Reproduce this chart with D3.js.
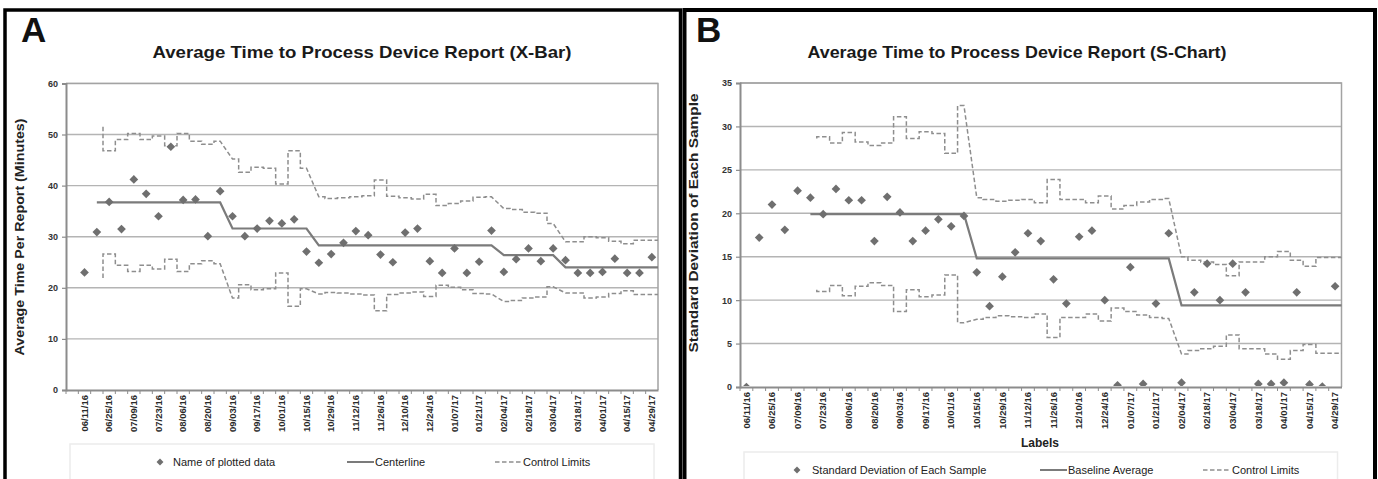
<!DOCTYPE html>
<html><head><meta charset="utf-8">
<script src="https://cdn.jsdelivr.net/npm/d3@7"></script>
<style>
body{margin:0;background:#fff}
svg{display:block}
text{font-family:"Liberation Sans",Arial,sans-serif}
</style>
</head><body>
<svg id="c" width="1378" height="479"></svg>
<script>
// ---------- DATA ----------
const weeks = ["06/11/16","06/18/16","06/25/16","07/02/16","07/09/16","07/16/16","07/23/16","07/30/16",
  "08/06/16","08/13/16","08/20/16","08/27/16","09/03/16","09/10/16","09/17/16","09/24/16","10/01/16",
  "10/08/16","10/15/16","10/22/16","10/29/16","11/05/16","11/12/16","11/19/16","11/26/16","12/03/16",
  "12/10/16","12/17/16","12/24/16","12/31/16","01/07/17","01/14/17","01/21/17","01/28/17","02/04/17",
  "02/11/17","02/18/17","02/25/17","03/04/17","03/11/17","03/18/17","03/25/17","04/01/17","04/08/17",
  "04/15/17","04/22/17","04/29/17"];
const tickLabels = ["06/11/16","06/25/16","07/09/16","07/23/16","08/06/16","08/20/16","09/03/16","09/17/16",
  "10/01/16","10/15/16","10/29/16","11/12/16","11/26/16","12/10/16","12/24/16","01/07/17","01/21/17",
  "02/04/17","02/18/17","03/04/17","03/18/17","04/01/17","04/15/17","04/29/17"];

// Panel A: X-bar
const xbarValues = [23.0,30.9,36.8,31.5,41.2,38.4,34.0,47.6,37.2,37.3,30.1,38.9,34.0,30.1,31.6,33.1,32.6,33.4,
  27.1,24.9,26.6,28.8,31.1,30.3,26.5,25.0,30.8,31.6,25.2,22.9,27.7,22.9,25.1,31.2,23.1,25.6,27.7,25.2,27.7,
  25.4,22.9,22.9,23.1,25.7,22.9,22.9,26.0];
const xbarCenter = [null,36.7,36.7,36.7,36.7,36.7,36.7,36.7,36.7,36.7,36.7,36.7,
  31.6,31.6,31.6,31.6,31.6,31.6,31.6,
  28.3,28.3,28.3,28.3,28.3,28.3,28.3,28.3,28.3,28.3,28.3,28.3,28.3,28.3,28.3,
  26.4,26.4,26.4,26.4,26.4,
  24.0,24.0,24.0,24.0,24.0,24.0,24.0,24.0];
const xbarUCL = [null,51.5,46.8,49.0,50.2,49.0,49.7,47.8,50.2,48.7,48.1,48.7,45.2,42.6,43.6,43.4,40.3,46.8,43.4,
  37.8,37.5,37.6,37.8,38.0,41.1,37.9,37.6,37.4,38.3,36.1,36.5,37.0,37.7,37.8,35.5,35.3,34.8,34.6,32.6,
  29.0,29.0,30.0,29.8,29.1,28.6,29.3,29.3];
const xbarLCL = [null,21.9,26.6,24.4,23.2,24.4,23.7,25.6,23.2,24.7,25.3,24.7,18.0,20.6,19.6,19.8,22.9,16.4,19.8,
  18.8,19.1,19.0,18.8,18.6,15.5,18.7,19.0,19.2,18.3,20.5,20.1,19.6,18.9,18.8,17.3,17.5,18.0,18.2,20.2,
  19.0,19.0,18.0,18.2,18.9,19.4,18.7,18.7];
const xbarTicks = [0,10,20,30,40,50,60];

// Panel B: S-chart
const sdValues = [0.0,17.2,21.0,18.1,22.6,21.8,19.9,22.8,21.5,21.5,16.8,21.9,20.1,16.8,18.0,19.3,18.5,19.7,
  13.2,9.3,12.7,15.5,17.7,16.8,12.4,9.6,17.3,18.0,10.0,0.2,13.8,0.35,9.6,17.7,0.5,10.9,14.2,10.0,14.2,10.9,
  0.35,0.35,0.5,10.9,0.3,0.05,11.6];
const sdCenter = [null,null,null,null,null,
  19.9,19.9,19.9,19.9,19.9,19.9,19.9,19.9,19.9,19.9,19.9,19.9,19.9,
  14.8,14.8,14.8,14.8,14.8,14.8,14.8,14.8,14.8,14.8,14.8,14.8,14.8,14.8,14.8,14.8,
  9.4,9.4,9.4,9.4,9.4,9.4,9.4,9.4,9.4,9.4,9.4,9.4,9.4];
const sdUCL = [null,null,null,null,null,28.6,28.8,28.1,29.3,28.2,27.8,28.1,31.1,28.6,29.4,29.2,26.9,32.4,
  21.8,21.6,21.4,21.5,21.6,21.2,23.9,21.6,21.6,21.2,22.0,20.5,20.9,21.3,21.6,21.7,
  15.0,14.6,14.4,14.1,12.8,14.4,14.4,15.0,15.6,14.6,13.9,14.9,14.9];
const sdLCL = [null,null,null,null,null,11.2,11.0,11.7,10.5,11.6,12.0,11.7,8.7,11.2,10.4,10.6,12.9,7.4,
  7.8,8.0,8.2,8.1,8.0,8.4,5.7,8.0,8.0,8.4,7.6,9.1,8.7,8.3,8.0,7.9,
  3.8,4.2,4.4,4.7,6.0,4.4,4.4,3.8,3.2,4.2,4.9,3.9,3.9];
const sdTicks = [0,5,10,15,20,25,30,35];

// ---------- DRAWING ----------
const svg = d3.select("#c");
const FONT = '"Liberation Sans",Arial,sans-serif';
const GRID = "#b4b4b4", AXIS = "#8c8c8c", MARK = "#6f6f6f", CLC = "#7b7b7b", LIM = "#8e8e8e";

function centerPath(xc, xr, y, vals) {
  const idx = vals.map((v, i) => v == null ? -1 : i).filter(i => i >= 0);
  const p = d3.path();
  idx.forEach((i, k) => k ? p.lineTo(xc(i), y(vals[i])) : p.moveTo(xc(i), y(vals[i])));
  const L = idx[idx.length - 1];
  p.lineTo(xr(L), y(vals[L]));
  return p.toString();
}
function limitPath(xl, xc, xr, y, vals, cl) {
  const idx = vals.map((v, i) => v == null ? -1 : i).filter(i => i >= 0);
  const f = idx[0], L = idx[idx.length - 1];
  const p = d3.path();
  p.moveTo(xr(f), y(vals[f]));
  for (let i = f + 1; i <= L; i++) {
    p.lineTo(xl(i), y(vals[i]));
    if (i < L && cl[i + 1] !== cl[i]) {
      p.lineTo(xc(i), y(vals[i]));
      p.lineTo(xc(i + 1), y(vals[i + 1]));
      p.lineTo(xr(i + 1), y(vals[i + 1]));
      i++;
    } else {
      p.lineTo(xr(i), y(vals[i]));
    }
  }
  return p.toString();
}

function panel(cfg) {
  const g = svg.append("g");
  const x = d3.scaleBand().domain(cfg.domain).range([cfg.left, cfg.right]).paddingInner(0).paddingOuter(0);
  const bw = x.bandwidth();
  const xl = i => x(weeks[i]), xc = i => x(weeks[i]) + bw / 2, xr = i => x(weeks[i]) + bw;
  const y = d3.scaleLinear().domain([0, cfg.ticks[cfg.ticks.length - 1]]).range([cfg.bottom, cfg.top]);
  const id = "clip" + cfg.key;
  svg.append("clipPath").attr("id", id).append("rect")
    .attr("x", cfg.left).attr("y", cfg.top - 2).attr("width", cfg.right - cfg.left).attr("height", cfg.bottom - cfg.top + 1);

  // gridlines
  g.append("g").selectAll("line").data(cfg.ticks.filter(t => t > 0)).join("line")
    .attr("x1", cfg.left).attr("x2", cfg.right).attr("y1", d => y(d)).attr("y2", d => y(d))
    .attr("stroke", GRID).attr("stroke-width", 1.4);
  // plot border (top/right)
  g.append("path").attr("d", `M${cfg.left},${cfg.top}H${cfg.right}V${cfg.bottom}`)
    .attr("fill", "none").attr("stroke", "#a3a3a3").attr("stroke-width", 1.5);

  // control limits
  [cfg.ucl, cfg.lcl].forEach(arr => {
    g.append("path").attr("d", limitPath(xl, xc, xr, y, arr, cfg.center))
      .attr("fill", "none").attr("stroke", LIM).attr("stroke-width", 1.5)
      .attr("stroke-dasharray", "4.5,2.5");
  });
  // centerline
  g.append("path").attr("d", centerPath(xc, xr, y, cfg.center))
    .attr("fill", "none").attr("stroke", CLC).attr("stroke-width", 2.2);
  // points
  const sym = d3.symbol().type(d3.symbolSquare).size(38);
  g.append("g").attr("clip-path", `url(#${id})`).selectAll("path").data(cfg.values).join("path")
    .attr("d", sym)
    .attr("transform", (d, i) => `translate(${xc(i)},${y(d)}) rotate(45)`)
    .attr("fill", MARK);

  // y axis
  const ya = g.append("g").attr("transform", `translate(${cfg.left},0)`)
    .call(d3.axisLeft(y).tickValues(cfg.ticks).tickSize(4).tickPadding(4).tickFormat(d3.format("d")));
  ya.select(".domain").attr("stroke", AXIS).attr("stroke-width", 2);
  ya.selectAll(".tick line").attr("stroke", AXIS).attr("stroke-width", 1.2);
  ya.selectAll("text").attr("font-family", FONT).attr("font-size", 9).attr("font-weight", "bold").attr("fill", "#333");

  // x axis
  const xa = g.append("g").attr("transform", `translate(0,${cfg.bottom})`)
    .call(d3.axisBottom(x).tickValues(tickLabels).tickSize(0).tickPadding(0));
  xa.select(".domain").attr("stroke", AXIS).attr("stroke-width", 2.2);
  xa.selectAll("text").attr("font-family", FONT).attr("font-size", 9.5).attr("font-weight", "bold").attr("fill", "#2a2a2a")
    .attr("transform", "rotate(-90)").attr("text-anchor", "end").attr("dy", "0.34em").attr("x", -5).attr("y", 0);
  // boundary tick marks
  xa.append("g").selectAll("line").data(cfg.domain).join("line")
    .attr("x1", d => x(d)).attr("x2", d => x(d)).attr("y1", 0).attr("y2", 4)
    .attr("stroke", AXIS).attr("stroke-width", 1);

  // titles
  svg.append("text").attr("x", cfg.letterX).attr("y", 42).attr("font-size", 35).attr("font-weight", "bold")
    .attr("fill", "#111").text(cfg.letter);
  svg.append("text").attr("x", cfg.titleX).attr("y", 58).attr("text-anchor", "middle").attr("font-size", 17)
    .attr("font-weight", "bold").attr("fill", "#1a1a1a").attr("textLength", 419).attr("lengthAdjust", "spacingAndGlyphs")
    .text(cfg.title);
  svg.append("text").attr("transform", `translate(${cfg.yTitleX},${cfg.yTitleY}) rotate(-90)`)
    .attr("text-anchor", "middle").attr("font-size", 12).attr("font-weight", "bold").attr("fill", "#222")
    .attr("textLength", cfg.yTitleLen).attr("lengthAdjust", "spacingAndGlyphs").text(cfg.yTitle);

  // legend
  const lg = svg.append("g").attr("font-family", FONT).attr("font-size", 11).attr("fill", "#222");
  lg.append("rect").attr("x", cfg.left + 4).attr("y", cfg.legY - 18).attr("width", cfg.right - cfg.left - 8)
    .attr("height", 40).attr("fill", "none").attr("stroke", "#ececec").attr("stroke-width", 1.5);
  const L = cfg.leg;
  lg.append("path").attr("d", d3.symbol().type(d3.symbolSquare).size(24)())
    .attr("transform", `translate(${L[0]},${cfg.legY}) rotate(45)`).attr("fill", MARK);
  lg.append("text").attr("x", L[1]).attr("y", cfg.legY + 4).text(cfg.legText[0]);
  lg.append("line").attr("x1", L[2]).attr("x2", L[3]).attr("y1", cfg.legY).attr("y2", cfg.legY)
    .attr("stroke", CLC).attr("stroke-width", 2);
  lg.append("text").attr("x", L[3] + 1).attr("y", cfg.legY + 4).text(cfg.legText[1]);
  lg.append("line").attr("x1", L[4]).attr("x2", L[5]).attr("y1", cfg.legY).attr("y2", cfg.legY)
    .attr("stroke", LIM).attr("stroke-width", 1.5).attr("stroke-dasharray", "4.5,2.5");
  lg.append("text").attr("x", L[5] + 1).attr("y", cfg.legY + 4).text(cfg.legText[2]);
}

panel({
  key: "A", domain: [""].concat(weeks), left: 66, right: 658, top: 83.4, bottom: 390,
  ticks: xbarTicks, values: xbarValues, center: xbarCenter, ucl: xbarUCL, lcl: xbarLCL,
  letter: "A", letterX: 21, title: "Average Time to Process Device Report (X-Bar)", titleX: 362,
  yTitle: "Average Time Per Report (Minutes)", yTitleX: 24, yTitleY: 237, yTitleLen: 237,
  legY: 462, leg: [160, 173, 347, 374, 495, 522],
  legText: ["Name of plotted data", "Centerline", "Control Limits"]
});
panel({
  key: "B", domain: weeks, left: 740, right: 1341.5, top: 83, bottom: 387,
  ticks: sdTicks, values: sdValues, center: sdCenter, ucl: sdUCL, lcl: sdLCL,
  letter: "B", letterX: 696, title: "Average Time to Process Device Report (S-Chart)", titleX: 1017,
  yTitle: "Standard Deviation of Each Sample", yTitleX: 698, yTitleY: 223, yTitleLen: 259,
  legY: 470, leg: [797, 812, 1040, 1067, 1203, 1231],
  legText: ["Standard Deviation of Each Sample", "Baseline Average", "Control Limits"]
});
svg.append("text").attr("x", 1040).attr("y", 447).attr("text-anchor", "middle").attr("font-size", 12)
  .attr("font-weight", "bold").attr("fill", "#222").text("Labels");

// panel frames
svg.append("rect").attr("x", 5).attr("y", 10).attr("width", 675.5).attr("height", 480)
  .attr("fill", "none").attr("stroke", "#000").attr("stroke-width", 3.5);
svg.append("rect").attr("x", 684.5).attr("y", 10).attr("width", 690.5).attr("height", 480)
  .attr("fill", "none").attr("stroke", "#000").attr("stroke-width", 4);
</script>
</body></html>
